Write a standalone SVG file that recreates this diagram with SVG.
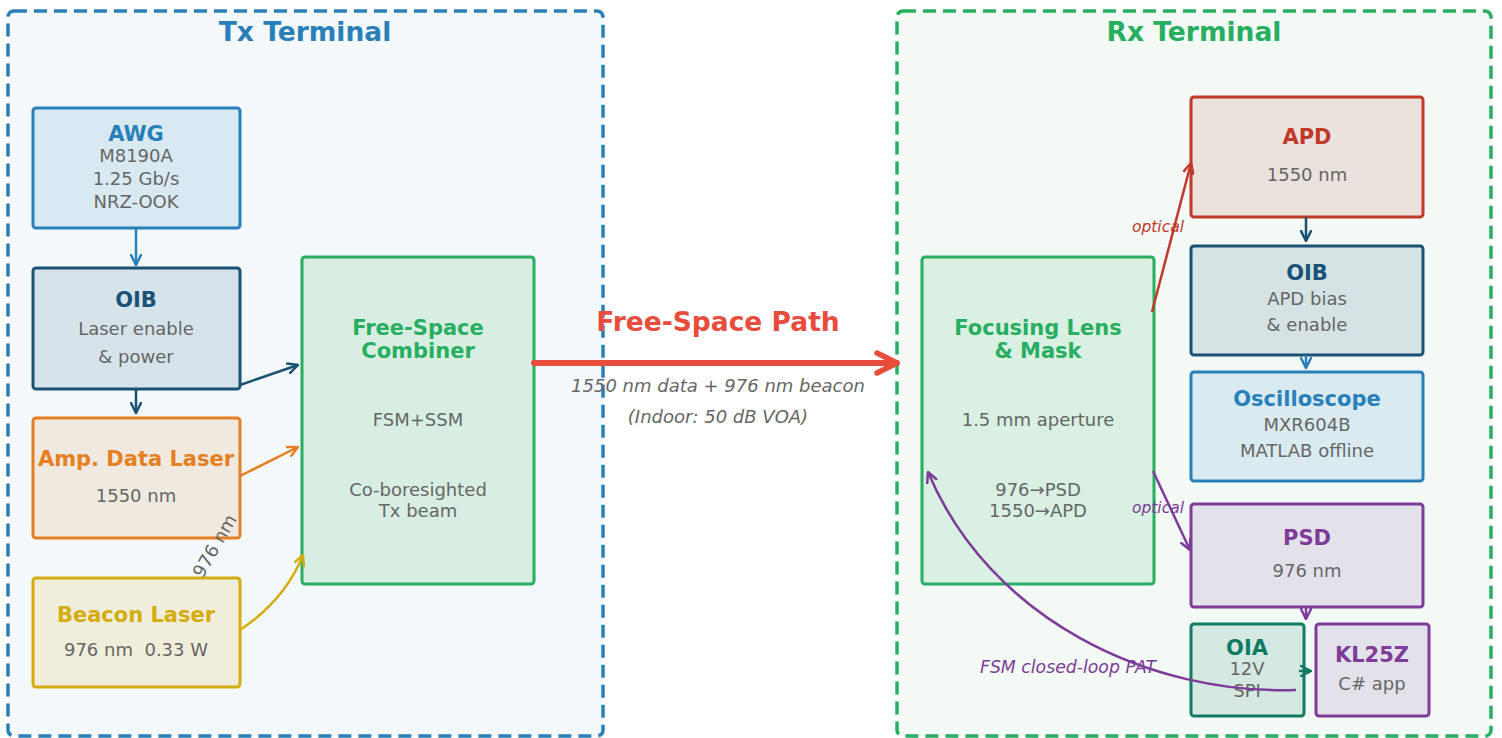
<svg xmlns="http://www.w3.org/2000/svg" width="1502" height="738" viewBox="0 0 1502 738">
  <style>
    text { font-family: "DejaVu Sans", "Liberation Sans", sans-serif; text-anchor: middle; }
    .term { stroke-width: 3.5; stroke-dasharray: 13 7; }
    .termTitle { font-size: 26.5px; font-weight: bold; }
    .box { stroke-width: 3; }
    .t { font-size: 21px; font-weight: bold; }
    .s { font-size: 18px; fill: #666666; }
    .it { font-style: italic; }
    .conn { fill: none; stroke-width: 2.5; }
  </style>
  <defs>
    <marker id="ah-blue" viewBox="0 0 12 12" refX="11" refY="6" markerWidth="12" markerHeight="12" markerUnits="userSpaceOnUse" orient="auto">
      <path d="M1,1 L11,6 L1,11" fill="none" stroke="#2980b9" stroke-width="2.5" stroke-linecap="round" stroke-linejoin="round"/>
    </marker>
    <marker id="ah-navy" viewBox="0 0 12 12" refX="11" refY="6" markerWidth="12" markerHeight="12" markerUnits="userSpaceOnUse" orient="auto">
      <path d="M1,1 L11,6 L1,11" fill="none" stroke="#1a5276" stroke-width="2.5" stroke-linecap="round" stroke-linejoin="round"/>
    </marker>
    <marker id="ah-orange" viewBox="0 0 12 12" refX="11" refY="6" markerWidth="12" markerHeight="12" markerUnits="userSpaceOnUse" orient="auto">
      <path d="M1,1 L11,6 L1,11" fill="none" stroke="#e67e22" stroke-width="2.5" stroke-linecap="round" stroke-linejoin="round"/>
    </marker>
    <marker id="ah-gold" viewBox="0 0 12 12" refX="11" refY="6" markerWidth="12" markerHeight="12" markerUnits="userSpaceOnUse" orient="auto">
      <path d="M1,1 L11,6 L1,11" fill="none" stroke="#d4ac0d" stroke-width="2.5" stroke-linecap="round" stroke-linejoin="round"/>
    </marker>
    <marker id="ah-red" viewBox="0 0 12 12" refX="11" refY="6" markerWidth="12" markerHeight="12" markerUnits="userSpaceOnUse" orient="auto">
      <path d="M1,1 L11,6 L1,11" fill="none" stroke="#c0392b" stroke-width="2.5" stroke-linecap="round" stroke-linejoin="round"/>
    </marker>
    <marker id="ah-purple" viewBox="0 0 12 12" refX="11" refY="6" markerWidth="12" markerHeight="12" markerUnits="userSpaceOnUse" orient="auto">
      <path d="M1,1 L11,6 L1,11" fill="none" stroke="#7d3c98" stroke-width="2.5" stroke-linecap="round" stroke-linejoin="round"/>
    </marker>
    <marker id="ah-teal" viewBox="0 0 12 12" refX="11" refY="6" markerWidth="12" markerHeight="12" markerUnits="userSpaceOnUse" orient="auto">
      <path d="M1,1 L11,6 L1,11" fill="none" stroke="#117a65" stroke-width="2.5" stroke-linecap="round" stroke-linejoin="round"/>
    </marker>
    <marker id="ah-path" viewBox="0 0 26 26" refX="24" refY="13" markerWidth="26" markerHeight="26" markerUnits="userSpaceOnUse" orient="auto">
      <path d="M4,3 L24,13 L4,23" fill="none" stroke="#e74c3c" stroke-width="5.5" stroke-linecap="round" stroke-linejoin="round"/>
    </marker>
  </defs>

  <rect width="1502" height="738" fill="#ffffff"/>

  <!-- Transmit terminal -->
  <g id="tx-terminal">
    <rect class="term" x="8" y="11" width="595" height="725" rx="6" fill="#f3f8fb" stroke="#2980b9"/>
    <text class="termTitle" x="305" y="41" fill="#2980b9">Tx Terminal</text>
  </g>

  <!-- Receive terminal -->
  <g id="rx-terminal">
    <rect class="term" x="897" y="11" width="594" height="725" rx="6" fill="#f3f9f5" stroke="#27ae60"/>
    <text class="termTitle" x="1194" y="41" fill="#27ae60">Rx Terminal</text>
  </g>

  <g id="awg">
    <rect class="box" x="33" y="108" width="207" height="120" rx="3" fill="#d9e9f2" stroke="#2980b9"/>
    <text class="t" x="136" y="141" fill="#2980b9">AWG</text>
    <text class="s" x="136" y="162">M8190A</text>
    <text class="s" x="136" y="185">1.25 Gb/s</text>
    <text class="s" x="136" y="208">NRZ-OOK</text>
  </g>

  <g id="oib-tx">
    <rect class="box" x="33" y="268" width="207" height="121" rx="3" fill="#d7e3ea" stroke="#1a5276"/>
    <text class="t" x="136" y="307" fill="#1a5276">OIB</text>
    <text class="s" x="136" y="335">Laser enable</text>
    <text class="s" x="136" y="363">&amp; power</text>
  </g>

  <g id="data-laser">
    <rect class="box" x="33" y="418" width="207" height="120" rx="3" fill="#f0e9df" stroke="#e67e22"/>
    <text class="t" x="136" y="466" fill="#e67e22">Amp. Data Laser</text>
    <text class="s" x="136" y="502">1550 nm</text>
  </g>

  <g id="beacon-laser">
    <rect class="box" x="33" y="578" width="207" height="109" rx="3" fill="#f0eedb" stroke="#d4ac0d"/>
    <text class="t" x="136" y="622" fill="#d4ac0d">Beacon Laser</text>
    <text class="s" x="136" y="656" xml:space="preserve">976 nm  0.33 W</text>
  </g>

  <g id="combiner">
    <rect class="box" x="302" y="257" width="232" height="327" rx="3" fill="#d9eee3" stroke="#27ae60"/>
    <text class="t" x="418" y="335" fill="#27ae60">Free-Space</text>
    <text class="t" x="418" y="358" fill="#27ae60">Combiner</text>
    <text class="s" x="418" y="426">FSM+SSM</text>
    <text class="s" x="418" y="496">Co-boresighted</text>
    <text class="s" x="418" y="517">Tx beam</text>
  </g>

  <g id="focusing-lens">
    <rect class="box" x="922" y="257" width="232" height="327" rx="3" fill="#d9f0e2" stroke="#27ae60"/>
    <text class="t" x="1038" y="335" fill="#27ae60">Focusing Lens</text>
    <text class="t" x="1038" y="358" fill="#27ae60">&amp; Mask</text>
    <text class="s" x="1038" y="426">1.5 mm aperture</text>
    <text class="s" x="1038" y="496">976→PSD</text>
    <text class="s" x="1038" y="517">1550→APD</text>
  </g>

  <g id="apd">
    <rect class="box" x="1191" y="97" width="232" height="120" rx="3" fill="#ebe1dd" stroke="#c0392b"/>
    <text class="t" x="1307" y="144" fill="#c0392b">APD</text>
    <text class="s" x="1307" y="181">1550 nm</text>
  </g>

  <g id="oib-rx">
    <rect class="box" x="1191" y="246" width="232" height="109" rx="3" fill="#d5e3e5" stroke="#1a5276"/>
    <text class="t" x="1307" y="280" fill="#1a5276">OIB</text>
    <text class="s" x="1307" y="305">APD bias</text>
    <text class="s" x="1307" y="331">&amp; enable</text>
  </g>

  <g id="oscilloscope">
    <rect class="box" x="1191" y="372" width="232" height="109" rx="3" fill="#d9eaf0" stroke="#2980b9"/>
    <text class="t" x="1307" y="406" fill="#2980b9">Oscilloscope</text>
    <text class="s" x="1307" y="431">MXR604B</text>
    <text class="s" x="1307" y="457">MATLAB offline</text>
  </g>

  <g id="psd">
    <rect class="box" x="1191" y="504" width="232" height="103" rx="3" fill="#e3e1ea" stroke="#7d3c98"/>
    <text class="t" x="1307" y="545" fill="#7d3c98">PSD</text>
    <text class="s" x="1307" y="577">976 nm</text>
  </g>

  <g id="oia">
    <rect class="box" x="1191" y="624" width="113" height="92" rx="3" fill="#d5e9e2" stroke="#117a65"/>
    <text class="t" x="1247" y="655" fill="#117a65">OIA</text>
    <text class="s" x="1247" y="675">12V</text>
    <text class="s" x="1247" y="697">SPI</text>
  </g>

  <g id="kl25z">
    <rect class="box" x="1316" y="624" width="113" height="92" rx="3" fill="#e3e1ea" stroke="#7d3c98"/>
    <text class="t" x="1372" y="662" fill="#7d3c98">KL25Z</text>
    <text class="s" x="1372" y="690">C# app</text>
  </g>

  <!-- Connectors -->
  <g id="connectors">
    <path class="conn" d="M136,228 L136,265" stroke="#2980b9" marker-end="url(#ah-blue)"/>
    <path class="conn" d="M136,389 L136,413" stroke="#1a5276" marker-end="url(#ah-navy)"/>
    <path class="conn" d="M240,385 L298,365" stroke="#1a5276" marker-end="url(#ah-navy)"/>
    <path class="conn" d="M240,476 L298,447" stroke="#e67e22" marker-end="url(#ah-orange)"/>
    <path class="conn" d="M240,630 Q285,600 303,555" stroke="#d4ac0d" marker-end="url(#ah-gold)"/>
    <text class="s" x="0" y="0" font-size="15.5" transform="translate(220,549) rotate(-60)">976 nm</text>

    <!-- free-space optical link -->
    <path d="M534,363 L897,363" fill="none" stroke="#e74c3c" stroke-width="6" stroke-linecap="round" marker-end="url(#ah-path)"/>
    <text x="718" y="331" font-size="26.5" font-weight="bold" fill="#e74c3c">Free-Space Path</text>
    <text class="s it" x="718" y="392" font-size="19.8">1550 nm data + 976 nm beacon</text>
    <text class="s it" x="718" y="423" font-size="16.5">(Indoor: 50 dB VOA)</text>

    <path class="conn" d="M1152,312 L1191,163" stroke="#c0392b" marker-end="url(#ah-red)"/>
    <text class="it" x="1158" y="232" font-size="15.5" fill="#c0392b">optical</text>
    <path class="conn" d="M1306,217 L1306,241" stroke="#1a5276" marker-end="url(#ah-navy)"/>
    <path class="conn" d="M1306,355 L1306,368" stroke="#2980b9" marker-end="url(#ah-blue)"/>
    <path class="conn" d="M1153,471 L1190,550" stroke="#7d3c98" marker-end="url(#ah-purple)"/>
    <text class="it" x="1158" y="513" font-size="15.5" fill="#7d3c98">optical</text>
    <path class="conn" d="M1306,607 L1306,619" stroke="#7d3c98" marker-end="url(#ah-purple)"/>
    <path class="conn" d="M1299,671 L1311,671" stroke="#117a65" marker-end="url(#ah-teal)"/>
    <path class="conn" d="M1296,690 C1150,695 990,620 928,472" stroke="#7d3c98" marker-end="url(#ah-purple)"/>
    <text class="it" x="1068" y="673" font-size="17.3" fill="#7d3c98">FSM closed-loop PAT</text>
  </g>
</svg>
